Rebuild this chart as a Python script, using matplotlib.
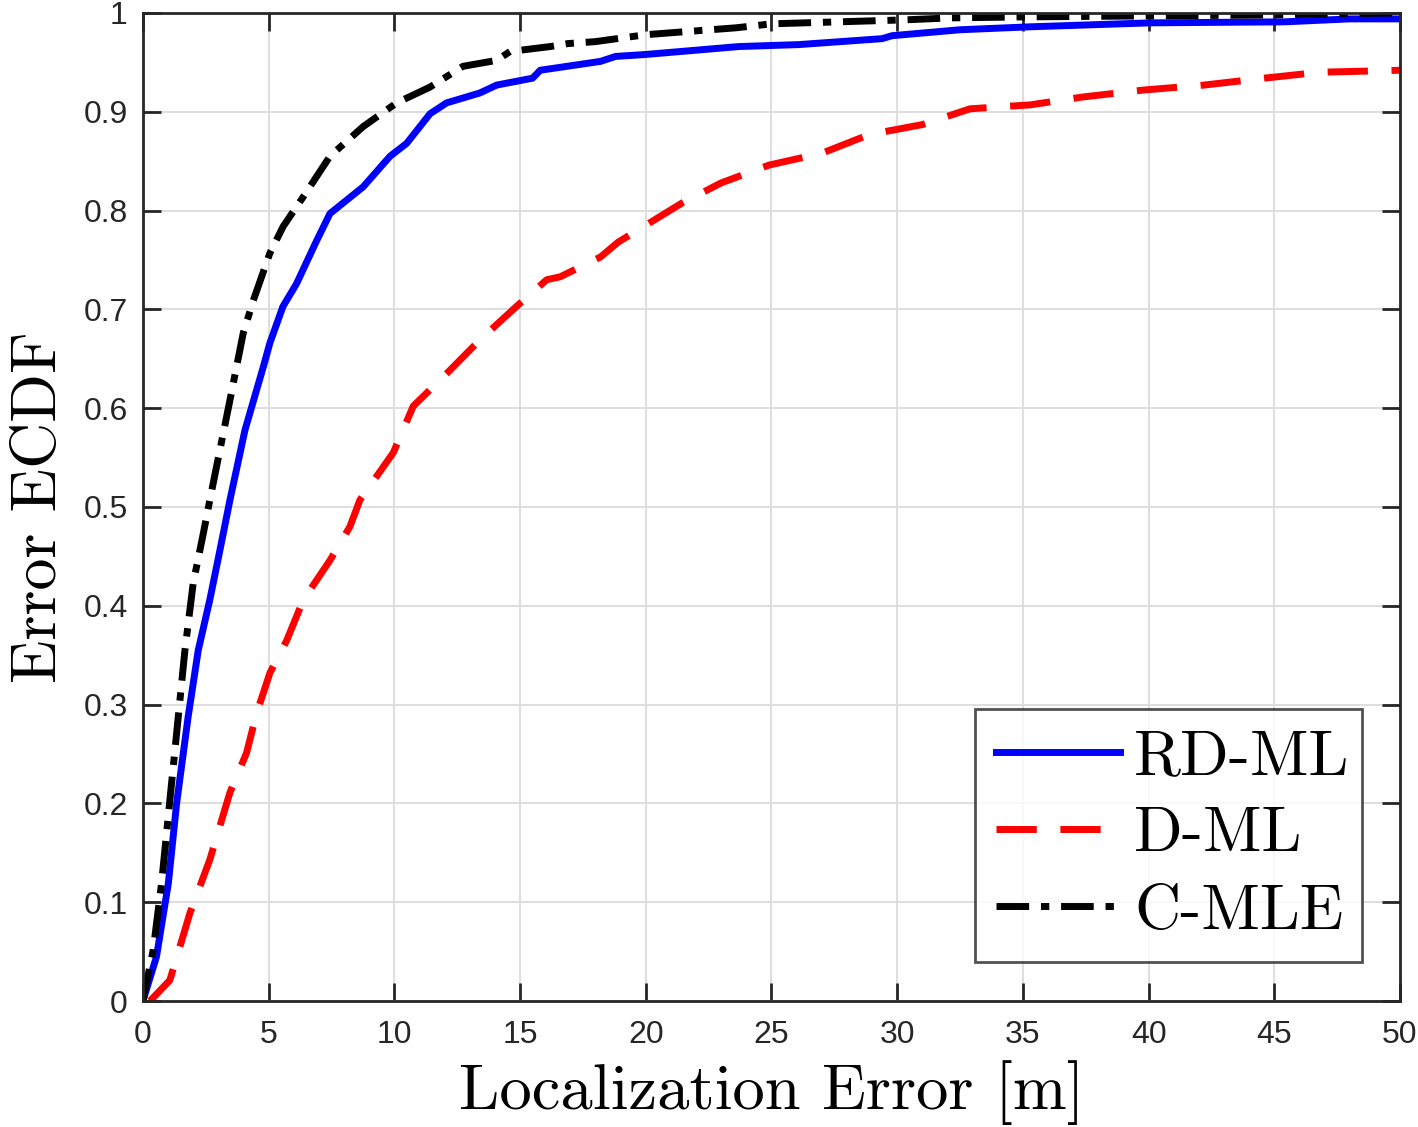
import numpy as np
import matplotlib
matplotlib.use("Agg")
import matplotlib.pyplot as plt
from matplotlib.ticker import FormatStrFormatter, MultipleLocator

# ECDF curves (x = error [m], y = ECDF)
rd_x = [0.0, 0.54, 1.01, 1.34, 1.80, 2.2, 2.66, 3.06, 3.46, 4.06, 4.79, 5.05, 5.57, 6.11,
        6.9, 7.44, 8.76, 9.83, 10.49, 11.42, 12.08, 13.4, 14.07, 15.5, 15.8, 18.2, 18.8,
        20.0, 23.7, 26.1, 29.4, 29.8, 32.5, 35.3, 40.1, 45.4, 48.0, 50.0]
rd_y = [0.0, 0.045, 0.119, 0.200, 0.288, 0.355, 0.406, 0.456, 0.507, 0.578, 0.642, 0.666,
        0.703, 0.726, 0.769, 0.797, 0.824, 0.855, 0.868, 0.898, 0.909, 0.919, 0.927, 0.934,
        0.942, 0.951, 0.956, 0.958, 0.966, 0.968, 0.974, 0.977, 0.983, 0.986, 0.990, 0.991,
        0.994, 0.994]

d_x = [0.28, 1.07, 1.87, 2.66, 3.46, 4.12, 4.52, 5.05, 5.72, 6.38, 7.44, 8.23, 8.63, 9.96,
       10.75, 12.08, 13.4, 14.86, 16.06, 16.6, 18.2, 18.9, 19.8, 21.4, 23.0, 24.9, 27.0,
       28.9, 31.0, 32.9, 35.3, 37.4, 39.8, 42.2, 44.6, 46.8, 50.0]
d_y = [0.0, 0.021, 0.089, 0.143, 0.211, 0.251, 0.291, 0.332, 0.365, 0.406, 0.446, 0.480,
       0.507, 0.555, 0.602, 0.635, 0.669, 0.703, 0.730, 0.733, 0.753, 0.768, 0.782, 0.807,
       0.828, 0.846, 0.858, 0.877, 0.887, 0.903, 0.907, 0.915, 0.922, 0.927, 0.934, 0.940,
       0.942]

c_x = [0.0, 0.41, 0.74, 1.07, 1.34, 1.67, 2.0, 2.4, 2.66, 3.46, 3.99, 4.39, 5.05, 5.58,
       6.38, 7.44, 8.76, 10.09, 11.42, 12.73, 14.07, 14.6, 16.2, 16.9, 18.0, 20.0, 23.6,
       25.0, 30.3, 32.1, 35.0, 40.0, 45.0, 47.0, 50.0]
c_y = [0.0, 0.052, 0.119, 0.203, 0.271, 0.355, 0.423, 0.473, 0.507, 0.608, 0.676, 0.709,
       0.757, 0.784, 0.814, 0.855, 0.885, 0.909, 0.925, 0.946, 0.952, 0.961, 0.966, 0.969,
       0.971, 0.978, 0.985, 0.989, 0.993, 0.995, 0.996, 0.997, 0.998, 0.999, 1.0]

labels = ["RD-ML", "D-ML", "C-MLE"]
x_ticks = np.arange(0, 51, 5)

serif = ["cmr10", "DejaVu Serif"]
sans = ["Liberation Sans", "DejaVu Sans"]

fig = plt.figure(figsize=(14.18, 11.27), dpi=100)
ax = fig.add_axes([0.1008, 0.1118, 0.8865, 0.8767])

lw = 5.0
ax.plot(rd_x, rd_y, color="#0000ff", lw=lw, ls="-", label=labels[0], solid_joinstyle="round")
ax.plot(d_x, d_y, color="#ff0000", lw=lw, ls=(0, (5.8, 3.4)), label=labels[1],
        dash_capstyle="butt")
ax.plot(c_x, c_y, color="black", lw=lw, ls=(0, (4.7, 1.7, 1.2, 1.7)), label=labels[2],
        dash_capstyle="butt")

ax.set_xlim(0, 50)
ax.set_ylim(0, 1)
ax.set_xticks(x_ticks)
ax.yaxis.set_major_locator(MultipleLocator(0.1))
ax.yaxis.set_major_formatter(FormatStrFormatter("%g"))
ax.grid(True, color="#dedede", lw=1.4)
ax.set_axisbelow(True)

for s in ax.spines.values():
    s.set_color("#262626")
    s.set_linewidth(2.0)
ax.tick_params(direction="in", length=13, width=2.0, color="#262626",
               top=True, right=True, labelsize=23, labelcolor="#262626", pad=11)
ax.tick_params(axis="x", pad=14)
for t in ax.get_xticklabels() + ax.get_yticklabels():
    t.set_family(sans)

ax.set_xlabel("Localization Error [m]", family=serif, fontsize=46.5, labelpad=7)
ax.set_ylabel("Error ECDF", family=serif, fontsize=46, labelpad=10)

leg = ax.legend(loc="lower left", bbox_to_anchor=(0.662, 0.0395, 0.308, 0.257),
                mode="expand", prop={"family": serif, "size": 46}, frameon=True,
                fancybox=False, handlelength=1.95, handletextpad=0.22,
                labelspacing=0.3, borderpad=0.32, borderaxespad=0)
leg.get_frame().set_edgecolor("#262626")
leg.get_frame().set_linewidth(2.0)

fig.savefig("out.png", dpi=100)
